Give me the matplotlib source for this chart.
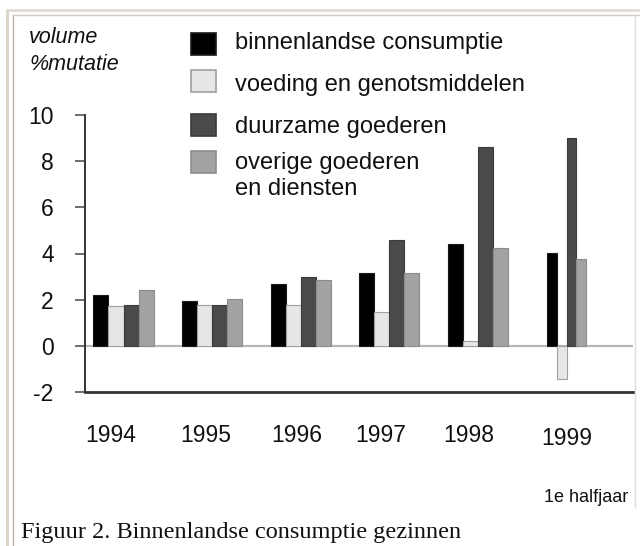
import matplotlib
matplotlib.use("Agg")
import matplotlib.pyplot as plt
from matplotlib.patches import Rectangle
from matplotlib.lines import Line2D
import numpy as np

# ---- data ----
years = ["1994", "1995", "1996", "1997", "1998", "1999"]
series_names = ["binnenlandse consumptie", "voeding en genotsmiddelen",
                "duurzame goederen", "overige goederen\nen diensten"]
binnenlandse = [2.22, 1.96, 2.67, 3.16, 4.42, 4.02]
voeding = [1.73, 1.78, 1.78, 1.45, 0.23, -1.42]
duurzame = [1.75, 1.77, 2.97, 4.58, 8.60, 8.99]
overige = [2.43, 2.04, 2.84, 3.14, 4.22, 3.77]
yticks = [-2, 0, 2, 4, 6, 8, 10]

# ---- style ----
colors = ["#000000", "#e6e6e6", "#4a4a4a", "#a2a2a2"]
edges = ["#1a1a1a", "#a0a0a0", "#3a3a3a", "#8c8c8c"]
W, H = 640, 546
fig = plt.figure(figsize=(W / 100, H / 100), dpi=100)
fig.patch.set_facecolor("white")

def fx(x):
    return x / W

def fy(y):
    return 1 - y / H

# axes region (pixel coords of reference)
L, R, T, B = 85, 633, 115, 392
ax = fig.add_axes([fx(L), fy(B), fx(R) - fx(L), fy(T) - fy(B)])
ax.set_ylim(-2, 10)
ax.set_xlim(-0.435, 5.75)

series = [binnenlandse, voeding, duurzame, overige]
x = np.arange(len(years))
widths = np.array([0.17, 0.17, 0.17, 0.17, 0.17, 0.11])
for k, vals in enumerate(series):
    pos = x + (k - 1.5) * widths
    ax.bar(pos, vals, width=widths, color=colors[k], edgecolor=edges[k],
           linewidth=0.8, zorder=3)

ax.axhline(0, color="#b8b8b8", lw=1.6, zorder=2)

for s in ["top", "right"]:
    ax.spines[s].set_visible(False)
ax.spines["left"].set_color("#333333")
ax.spines["left"].set_linewidth(1.4)
ax.spines["bottom"].set_color("#333333")
ax.spines["bottom"].set_linewidth(2)

ax.set_yticks(yticks)
ax.set_yticklabels([str(v) for v in yticks], fontsize=16.5,
                   family="Liberation Sans", color="#111111")
ax.tick_params(axis="y", direction="out", length=7.5, width=1.2,
               color="#555555", pad=15)
ax.set_xticks([])

# year labels (slightly offset like the reference)
label_offsets = [-0.15, -0.07, -0.05, -0.10, -0.10, 0.0]
label_dy = [0, 0, 0, 0, 0, 3.5]
for i, yr in enumerate(years):
    xpix = L + (x[i] + label_offsets[i] + 0.435) / (5.75 + 0.435) * (R - L)
    fig.text(fx(xpix), fy(435 + label_dy[i]), yr, ha="center", va="center",
             fontsize=16.5, family="Liberation Sans", color="#111111")

fig.text(fx(586), fy(498), "1e halfjaar", ha="center", va="center",
         fontsize=13, family="Liberation Sans", color="#111111")

# axis title
fig.text(fx(29), fy(43), "volume", ha="left", va="baseline", fontsize=15.5,
         style="italic", family="Liberation Sans", color="#111111")
fig.text(fx(29), fy(70), "%mutatie", ha="left", va="baseline", fontsize=15.5,
         style="italic", family="Liberation Sans", color="#111111")

# legend (manual)
sq_top = [32.5, 70, 113.5, 151]
text_base = [49, 91, 133, 168.5]
for k, name in enumerate(series_names):
    fig.patches.append(Rectangle((fx(191), fy(sq_top[k] + 22)), fx(25) - fx(0),
                                 fy(0) - fy(22), transform=fig.transFigure,
                                 facecolor=colors[k], edgecolor=edges[k],
                                 linewidth=1.2))
    lines = name.split("\n")
    for j, ln in enumerate(lines):
        fig.text(fx(235), fy(text_base[k] + 26.7 * j), ln, ha="left",
                 va="baseline", fontsize=17, family="Liberation Sans",
                 color="#111111")

# caption
fig.text(fx(21), fy(538), "Figuur 2. Binnenlandse consumptie gezinnen",
         ha="left", va="baseline", fontsize=17.5, family="Liberation Serif",
         color="#111111")

# page frame lines
frame = [
    ((7, 7), (10, 546), "#d8d3c4", 2.0),
    ((7, 640), (10, 10), "#e2ddd0", 2.0),
    ((12.5, 12.5), (15, 546), "#b9b5aa", 1.0),
    ((12.5, 640), (15, 15), "#cfcbc0", 1.0),
    ((635, 635), (15, 507), "#e0e0e0", 1.0),
]
for xs, ys, c, lw in frame:
    fig.add_artist(Line2D([fx(xs[0]), fx(xs[1])], [fy(ys[0]), fy(ys[1])],
                          transform=fig.transFigure, color=c, lw=lw))

fig.savefig("out.png", dpi=100)
